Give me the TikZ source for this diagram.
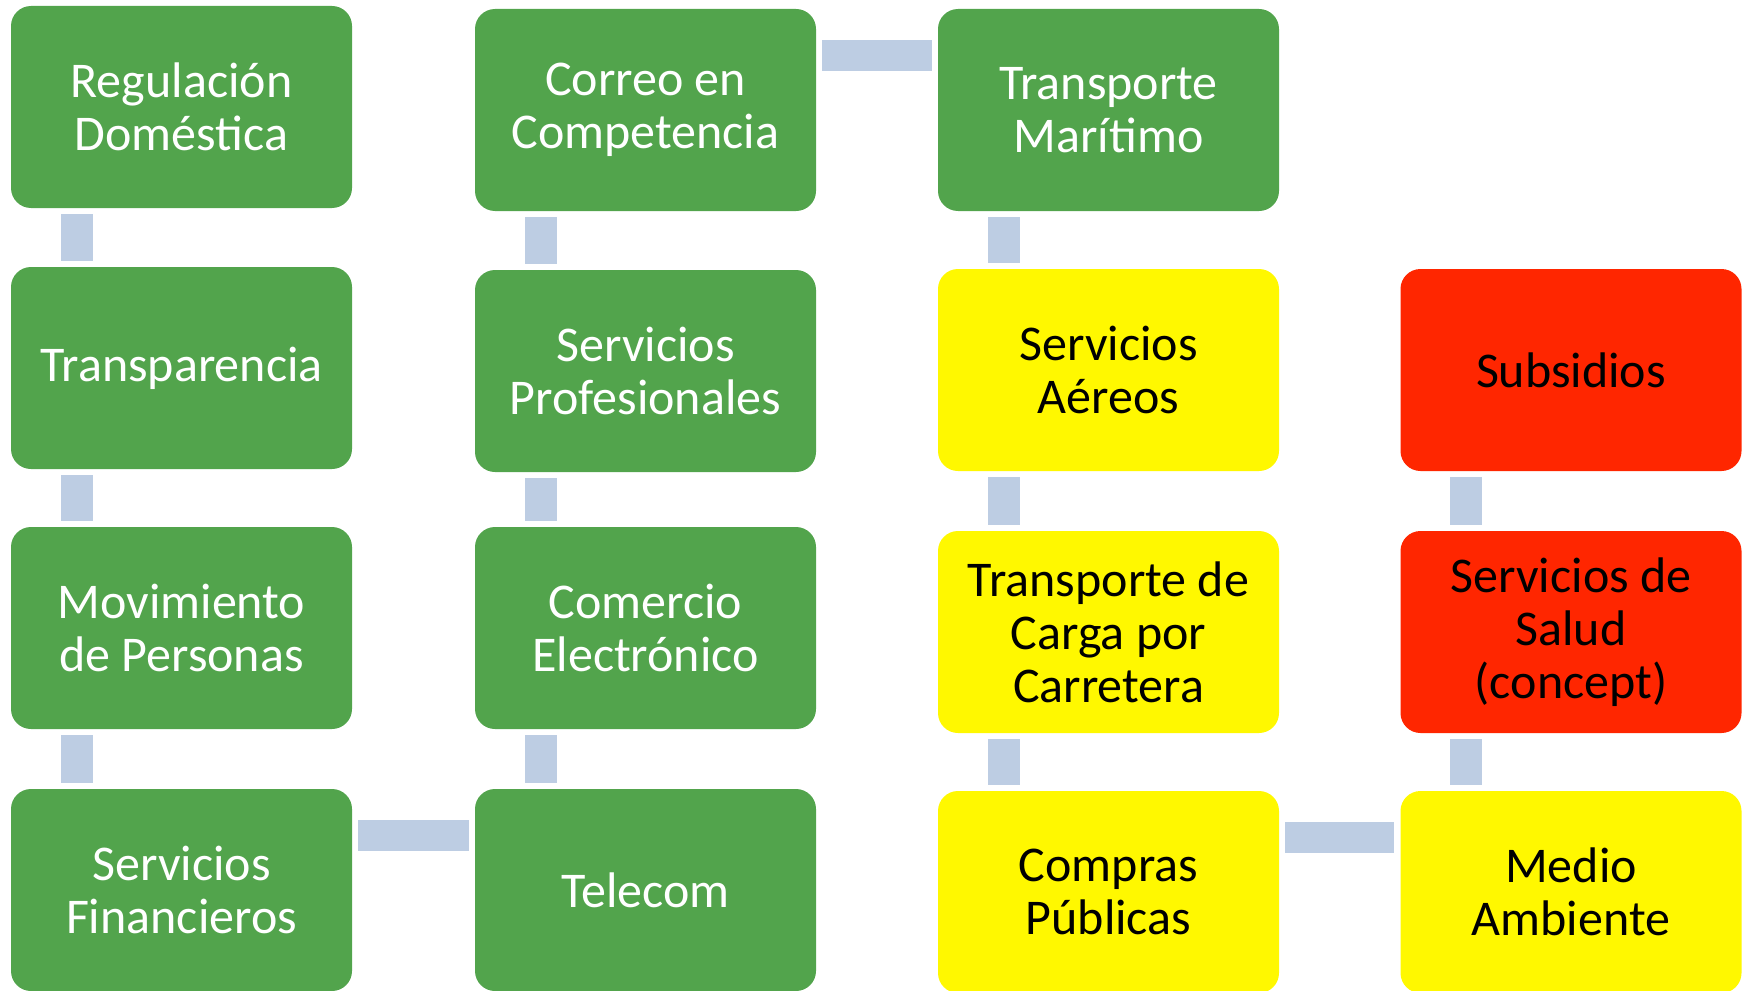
\documentclass[tikz,border=0pt]{standalone}
\usepackage{fontspec}
\setmainfont{Carlito}
\usetikzlibrary{calc}
\definecolor{boxgreen}{RGB}{82,164,76}
\definecolor{boxyellow}{RGB}{255,248,0}
\definecolor{boxred}{RGB}{255,38,0}
\definecolor{connblue}{RGB}{189,205,227}
\begin{document}
\begin{tikzpicture}[x=0.5pt,y=-0.5pt,
  card/.style={rounded corners=10pt, minimum width=170.5pt, minimum height=101pt,
    inner sep=0pt, align=center,
    font=\fontsize{25}{26.5}\selectfont},
  gbox/.style={card, fill=boxgreen, text=white},
  ybox/.style={card, fill=boxyellow, text=black},
  rbox/.style={card, fill=boxred, text=black},
  vconn/.style={draw=connblue, line width=16pt, line cap=butt},
  hconn/.style={draw=connblue, line width=15.5pt, line cap=butt}]
\useasboundingbox (0,0) rectangle (1744,990);
% column 1
\node[gbox] (a1) at (181.5,107) {Regulación\\Doméstica};
\node[gbox] (a2) at (181.5,368) {Transparencia};
\node[gbox] (a3) at (181.5,628) {Movimiento\\de Personas};
\node[gbox] (a4) at (181.5,890) {Servicios\\Financieros};
% column 2
\node[gbox] (b1) at (645.5,110) {Correo en\\Competencia};
\node[gbox] (b2) at (645.5,371) {Servicios\\Profesionales};
\node[gbox] (b3) at (645.5,628) {Comercio\\Electrónico};
\node[gbox] (b4) at (645.5,890) {Telecom};
% column 3
\node[gbox] (c1) at (1108.5,110) {Transporte\\Marítimo};
\node[ybox] (c2) at (1108.5,370) {Servicios\\Aéreos};
\node[ybox] (c3) at (1108.5,632) {Transporte de\\Carga por\\Carretera};
\node[ybox] (c4) at (1108.5,892) {Compras\\Públicas};
% column 4
\node[rbox] (d2) at (1571,370) {Subsidios};
\node[rbox] (d3) at (1571,632) {Servicios de\\Salud\\(concept)};
\node[ybox] (d4) at (1571,892) {Medio\\Ambiente};
% vertical connectors
\foreach \u/\v in {a1/a2,a2/a3,a3/a4,b1/b2,b2/b3,b3/b4,c1/c2,c2/c3,c3/c4,d2/d3,d3/d4}{
  \draw[vconn] ($(\u.south west)+(66,6)$) -- ($(\v.north west)+(66,-6)$);
}
% horizontal connectors
\draw[hconn] ($(b1.north east)+(6,47)$) -- ($(c1.north west)+(-6,47)$);
\draw[hconn] ($(a4.north east)+(6,47)$) -- ($(b4.north west)+(-6,47)$);
\draw[hconn] ($(c4.north east)+(6,47)$) -- ($(d4.north west)+(-6,47)$);
\end{tikzpicture}
\end{document}
